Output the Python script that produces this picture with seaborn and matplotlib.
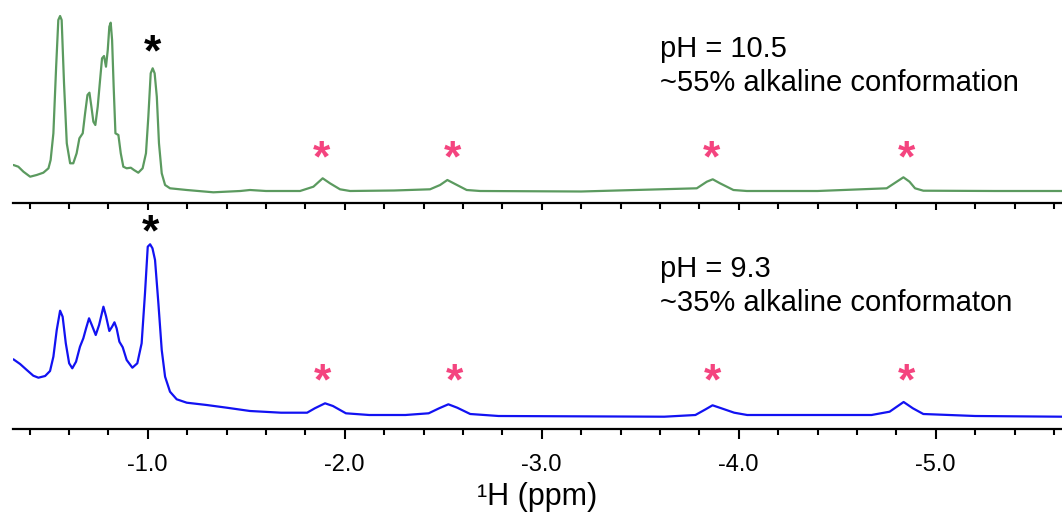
import matplotlib
matplotlib.use("Agg")
import matplotlib.pyplot as plt
from matplotlib.ticker import MultipleLocator, FormatStrFormatter
import seaborn as sns

# chemical shift (ppm) and intensity (a.u.)
ppm_top = [-0.318, -0.343, -0.369, -0.403, -0.436, -0.470, -0.496, -0.507, -0.521, -0.535,
           -0.546, -0.555, -0.563, -0.575, -0.589, -0.606, -0.622, -0.639, -0.653, -0.670,
           -0.682, -0.694, -0.704, -0.714, -0.724, -0.734, -0.746, -0.758, -0.768, -0.778,
           -0.788, -0.797, -0.805, -0.812, -0.819, -0.827, -0.836, -0.851, -0.863, -0.876,
           -0.893, -0.914, -0.930, -0.952, -0.974, -0.991, -1.003, -1.015, -1.025, -1.035,
           -1.046, -1.057, -1.071, -1.088, -1.113, -1.198, -1.333, -1.470, -1.519, -1.600,
           -1.773, -1.841, -1.888, -1.925, -1.976, -2.027, -2.250, -2.433, -2.484, -2.521,
           -2.560, -2.619, -2.687, -3.200, -3.787, -3.838, -3.868, -3.905, -3.973, -4.041,
           -4.400, -4.751, -4.802, -4.836, -4.867, -4.895, -4.937, -5.300, -5.641]
int_top = [38.0, 36.3, 31.3, 26.3, 28.0, 30.3, 34.7, 43.0, 69.7, 136.3,
           183.0, 187.0, 183.0, 119.7, 59.7, 39.7, 39.7, 49.7, 64.7, 69.7,
           89.7, 108.0, 110.3, 96.3, 81.3, 78.0, 96.3, 123.0, 144.7, 147.0,
           136.3, 153.0, 176.3, 180.3, 163.0, 116.3, 69.7, 68.0, 49.7, 36.3,
           34.7, 35.3, 33.0, 30.3, 34.7, 49.7, 86.3, 129.7, 134.7, 129.7,
           106.3, 59.7, 29.7, 18.0, 14.7, 13.0, 10.7, 12.0, 13.0, 12.0,
           12.0, 16.3, 24.7, 19.7, 13.7, 12.0, 12.5, 13.7, 18.0, 23.0,
           19.0, 13.0, 12.0, 11.5, 14.7, 21.3, 23.7, 19.7, 13.0, 12.0,
           12.0, 14.7, 21.3, 25.7, 21.3, 14.7, 12.3, 12.0, 12.0]

ppm_bot = [-0.318, -0.352, -0.386, -0.419, -0.445, -0.479, -0.504, -0.521, -0.538, -0.555,
           -0.568, -0.584, -0.601, -0.617, -0.636, -0.656, -0.673, -0.687, -0.702, -0.716,
           -0.736, -0.753, -0.775, -0.788, -0.805, -0.819, -0.831, -0.842, -0.856, -0.873,
           -0.893, -0.922, -0.947, -0.969, -0.986, -1.000, -1.012, -1.024, -1.037, -1.054,
           -1.071, -1.088, -1.113, -1.147, -1.198, -1.299, -1.401, -1.519, -1.677, -1.809,
           -1.848, -1.900, -1.940, -2.006, -2.124, -2.308, -2.426, -2.479, -2.526, -2.571,
           -2.637, -2.781, -3.622, -3.780, -3.832, -3.867, -3.912, -3.977, -4.043, -4.674,
           -4.766, -4.837, -4.884, -4.937, -5.200, -5.641]
int_bot = [69.7, 65.0, 59.0, 53.3, 51.3, 53.0, 58.0, 72.3, 99.0, 118.3,
           112.3, 85.7, 65.7, 60.7, 67.3, 82.3, 90.7, 100.7, 110.7, 104.0,
           94.0, 104.0, 122.3, 113.0, 98.0, 102.3, 106.7, 100.7, 87.3, 81.7,
           69.0, 61.3, 65.7, 85.7, 135.7, 182.3, 184.7, 180.7, 169.0, 125.7,
           79.0, 52.3, 37.3, 29.7, 26.3, 24.0, 21.3, 18.0, 16.3, 16.3,
           20.7, 25.7, 23.0, 15.7, 14.0, 14.0, 15.7, 20.7, 24.7, 21.3,
           15.0, 13.0, 12.3, 14.0, 19.7, 23.7, 20.7, 16.3, 14.0, 14.0,
           17.3, 27.0, 20.7, 15.0, 13.0, 12.3]

# marked signals
black_star_ppm = [-1.025, -1.012]
black_star_int = [159.0, 205.0]
pink_star_ppm_top = [-1.883, -2.548, -3.863, -4.853]
pink_star_ppm_bot = [-1.887, -2.558, -3.867, -4.853]
pink_star_int = [53.0, 55.7]

labels_top = ["pH = 10.5", "~55% alkaline conformation"]
labels_bot = ["pH = 9.3", "~35% alkaline conformaton"]

sns.set_style("ticks")
plt.rcParams["font.family"] = ["Liberation Sans", "DejaVu Sans"]
plt.rcParams["axes.unicode_minus"] = False
plt.rcParams["text.color"] = "black"
plt.rcParams["axes.labelcolor"] = "black"
plt.rcParams["axes.edgecolor"] = "black"
plt.rcParams["xtick.color"] = "black"

green = "#5b9a5f"
blue = "#1212f2"
pink = "#f4447f"

W, H = 1062, 519
fig = plt.figure(figsize=(W / 100, H / 100), dpi=100)
ax_top = fig.add_axes([13 / W, 1 - 203 / H, 1 - 13 / W, 203 / H])
ax_bot = fig.add_axes([13 / W, 1 - 429 / H, 1 - 13 / W, 219 / H])

panels = [
    (ax_top, ppm_top, int_top, green, 203, pink_star_ppm_top, pink_star_int[0], labels_top, (146.3, 112.0)),
    (ax_bot, ppm_bot, int_bot, blue, 219, pink_star_ppm_bot, pink_star_int[1], labels_bot, (152.0, 118.0)),
]


def star(ax, x, y, color):
    # the asterisk glyph sits high in its box, so nudge it down onto the point
    ax.annotate("*", (x, y), xytext=(0, -7), textcoords="offset points",
                ha="center", va="center", fontsize=32, fontweight="bold",
                color=color, annotation_clip=False)


for i, (ax, x, y, col, ymax, pink_x, pink_y, labels, text_y) in enumerate(panels):
    sns.lineplot(x=x, y=y, ax=ax, color=col, linewidth=1.6, estimator=None, sort=False)
    ax.set_xlim(-0.316, -5.641)
    ax.set_ylim(0, ymax)
    ax.set_yticks([])
    ax.set_ylabel("")
    sns.despine(ax=ax, left=True)
    ax.spines["bottom"].set_linewidth(1.6)
    ax.xaxis.set_major_locator(MultipleLocator(1.0))
    ax.xaxis.set_minor_locator(MultipleLocator(0.2))
    ax.xaxis.set_major_formatter(FormatStrFormatter("%.1f"))
    ax.tick_params(axis="x", which="major", direction="out", length=7, width=1.5,
                   labelsize=17, pad=11, colors="black")
    ax.tick_params(axis="x", which="minor", direction="out", length=4, width=1.5)

    star(ax, black_star_ppm[i], black_star_int[i], "black")
    for px in pink_x:
        star(ax, px, pink_y, pink)

    ax.text(-3.60, text_y[0], labels[0], ha="left", va="baseline", fontsize=21)
    ax.text(-3.60, text_y[1], labels[1], ha="left", va="baseline", fontsize=21)

ax_top.tick_params(axis="x", labelbottom=False)
ax_top.set_xlabel("")
ax_bot.set_xlabel("¹H (ppm)", fontsize=22, labelpad=4)

fig.savefig("out.png", dpi=100)
